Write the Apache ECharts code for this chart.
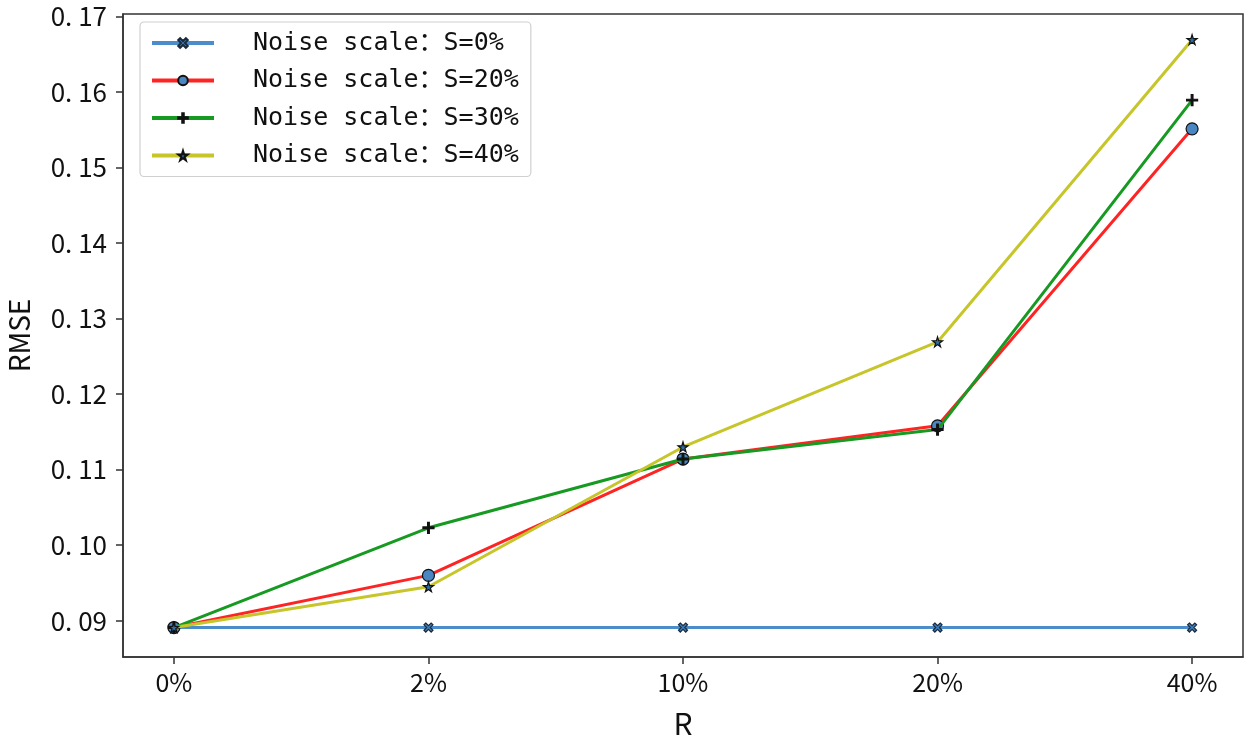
<!DOCTYPE html>
<html>
<head>
<meta charset="utf-8">
<script src="https://cdn.jsdelivr.net/npm/echarts@6/dist/echarts.min.js"></script>
<style>html,body{margin:0;padding:0;background:#fff}#c{width:1260px;height:745px}</style>
</head>
<body>
<div id="c"></div>
<script>
// ---- data ----
var categories = ['0%', '2%', '10%', '20%', '40%'];
var seriesNames = ['Noise scale\uff1aS=0%', 'Noise scale\uff1aS=20%', 'Noise scale\uff1aS=30%', 'Noise scale\uff1aS=40%'];
var s0  = [0.0891, 0.0891, 0.0891, 0.0891, 0.0891];
var s20 = [0.0891, 0.0960, 0.1114, 0.1158, 0.1551];
var s30 = [0.0891, 0.1023, 0.1114, 0.1153, 0.1589];
var s40 = [0.0891, 0.0945, 0.1130, 0.1269, 0.1669];
var yTicks = [0.09, 0.10, 0.11, 0.12, 0.13, 0.14, 0.15, 0.16, 0.17];
var xTicks = [0, 1, 2, 3, 4];

var font = '"Noto Sans CJK SC", "DejaVu Sans", sans-serif';
var xSymbol = 'path://M2,0 L5,3 L8,0 L10,2 L7,5 L10,8 L8,10 L5,7 L2,10 L0,8 L3,5 L0,2 Z';
var plusSymbol = 'path://M4.2,0 L5.8,0 L5.8,4.2 L10,4.2 L10,5.8 L5.8,5.8 L5.8,10 L4.2,10 L4.2,5.8 L0,5.8 L0,4.2 L4.2,4.2 Z';

function pts(arr){ return arr.map(function(v,i){ return [i, v]; }); }

var styles = [
  {data: s0,  color: '#4b8ccb', symbol: xSymbol,  size: 9, fill: '#3f7fbf', border: '#1a2a3a'},
  {data: s20, color: '#ff2424', symbol: 'circle', size: 12, fill: '#4a86c2', border: '#111'},
  {data: s30, color: '#169a22', symbol: plusSymbol, size: 11, fill: '#111', border: '#111'},
  {data: s40, color: '#c6c62a', symbol: 'path://M50,0 L61,35 L98,35 L68,57 L79,91 L50,70 L21,91 L32,57 L2,35 L39,35 Z', size: 10, fill: '#2f6fa8', border: '#111'}
];

var series = styles.map(function(s, k){
  return {
    name: seriesNames[k],
    type: 'line',
    data: pts(s.data),
    symbol: s.symbol,
    symbolSize: s.size,
    showAllSymbol: true,
    lineStyle: {color: s.color, width: 3},
    itemStyle: {color: s.fill, borderColor: s.border, borderWidth: 1.2},
    color: s.color,
    animation: false,
    z: 2 + k
  };
});

var chart = echarts.init(document.getElementById('c'));
chart.setOption({
  backgroundColor: '#fff',
  animation: false,
  grid: {left: 123, right: 17, top: 14, bottom: 88, show: true, borderColor: '#333', borderWidth: 1.5,
         backgroundColor: 'transparent', containLabel: false, outerBoundsMode: 'none'},
  legend: {
    left: 140, top: 22, orient: 'vertical',
    padding: [8, 12, 8, 10],
    backgroundColor: '#fff', borderColor: '#d0d0d0', borderWidth: 1.2, borderRadius: 4,
    itemWidth: 62, itemHeight: 12, itemGap: 11.5,
    lineStyle: {width: 4},
    textStyle: {fontFamily: '"DejaVu Sans Mono", "Noto Sans CJK SC", monospace', fontSize: 25, color: '#111', padding: [0, 0, 0, 34], lineHeight: 26},
    data: seriesNames
  },
  xAxis: {
    type: 'value', min: -0.2, max: 4.2,
    name: 'R', nameLocation: 'middle', nameGap: 52,
    nameTextStyle: {fontFamily: font, fontSize: 30, color: '#111'},
    axisLine: {show: true, onZero: false, lineStyle: {color: '#333', width: 1.5}},
    axisTick: {show: true, inside: false, length: 7, customValues: xTicks, lineStyle: {color: '#333', width: 1.5}},
    axisLabel: {customValues: xTicks, margin: 13, fontFamily: font, fontSize: 25, color: '#111',
      formatter: function(v){ return categories[Math.round(v)]; }},
    splitLine: {show: false}
  },
  yAxis: {
    type: 'value', min: 0.0852, max: 0.1703,
    name: 'RMSE', nameLocation: 'middle', nameGap: 90, nameRotate: 90,
    nameTextStyle: {fontFamily: font, fontSize: 28, color: '#111'},
    axisLine: {show: true, onZero: false, lineStyle: {color: '#333', width: 1.5}},
    axisTick: {show: true, inside: false, length: 7, customValues: yTicks, lineStyle: {color: '#333', width: 1.5}},
    axisLabel: {customValues: yTicks, margin: 16, fontFamily: font, fontSize: 26, color: '#111',
      formatter: function(v){ return v.toFixed(2).replace('.', '. '); }},
    splitLine: {show: false}
  },
  series: series
});
</script>
</body>
</html>
